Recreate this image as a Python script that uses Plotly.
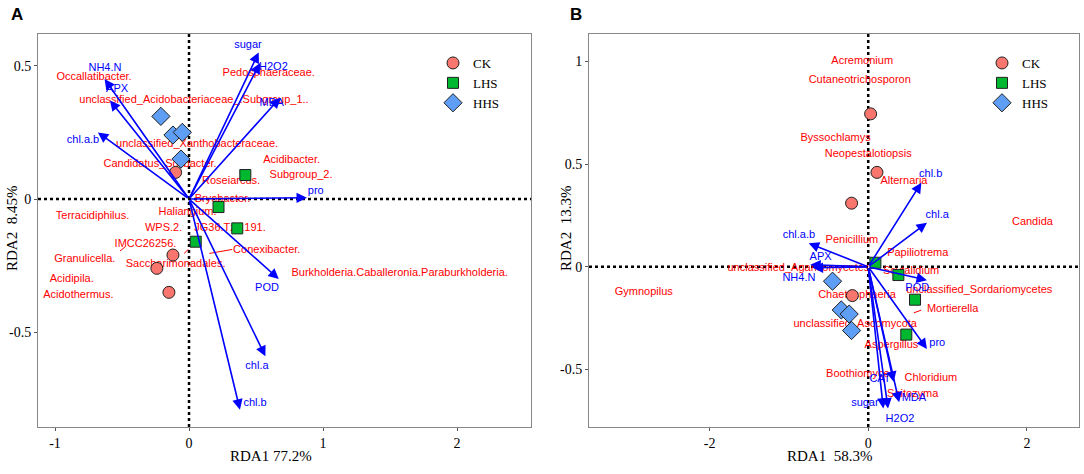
import plotly.graph_objects as go

# ---------------- Panel A data ----------------
groups = ["CK", "LHS", "HHS"]
A_ck_x = [-0.10, -0.12, -0.24, -0.15]
A_ck_y = [0.10, -0.21, -0.26, -0.35]
A_lhs_x = [0.42, 0.22, 0.36, 0.05]
A_lhs_y = [0.09, -0.03, -0.11, -0.16]
A_hhs_x = [-0.21, -0.12, -0.05, -0.06]
A_hhs_y = [0.31, 0.24, 0.25, 0.15]

A_env = ["sugar", "H2O2", "MDA", "pro", "NH4.N", "APX", "chl.a.b", "POD", "chl.a", "chl.b"]
A_env_x = [0.52, 0.53, 0.68, 0.88, -0.63, -0.59, -0.68, 0.67, 0.57, 0.38]
A_env_y = [0.55, 0.51, 0.38, 0.005, 0.45, 0.37, 0.25, -0.30, -0.59, -0.79]
A_env_lx = [0.44, 0.63, 0.617, 0.946, -0.627, -0.537, -0.791, 0.582, 0.507, 0.493]
A_env_ly = [0.577, 0.496, 0.359, 0.031, 0.491, 0.412, 0.221, -0.334, -0.626, -0.765]

A_sp = ["Occallatibacter.", "unclassified_Acidobacteriaceae_.Subgroup_1..", "Pedosphaeraceae.",
        "unclassified_Xanthobacteraceae.", "Candidatus_Solibacter.", "Acidibacter.", "Subgroup_2.",
        "Roseiarcus.", "Bryobacter.", "Terracidiphilus.", "Haliangium.", "WPS.2.", "JG36.TzT.191.",
        "IMCC26256.", "Granulicella.", "Saccharimonadales.", "Conexibacter.",
        "Burkholderia.Caballeronia.Paraburkholderia.", "Acidipila.", "Acidothermus."]
A_sp_x = [-0.709, 0.037, 0.595, 0.06, -0.216, 0.766, 0.836, 0.314, 0.25, -0.72, -0.011, -0.19, 0.306,
          -0.325, -0.778, -0.10, 0.58, 1.572, -0.875, -0.826]
A_sp_y = [0.455, 0.371, 0.471, 0.205, 0.13, 0.146, 0.09, 0.065, 0.0, -0.064, -0.05, -0.111, -0.111,
          -0.169, -0.225, -0.245, -0.191, -0.279, -0.30, -0.359]
A_leaders = [(-0.515, -0.195, -0.478, -0.18), (-0.037, -0.204, -0.005, -0.189), (0.152, -0.204, 0.323, -0.189)]
A_xticks = [-1, 0, 1, 2]
A_xticklabels = ["-1", "0", "1", "2"]
A_yticks = [-0.5, 0, 0.5]
A_yticklabels = ["-0.5", "0", "0.5"]

# ---------------- Panel B data ----------------
B_ck_x = [0.03, 0.11, -0.21, -0.20]
B_ck_y = [0.745, 0.46, 0.31, -0.14]
B_lhs_x = [0.09, 0.38, 0.59, 0.48]
B_lhs_y = [0.02, -0.04, -0.16, -0.33]
B_hhs_x = [-0.45, -0.34, -0.24, -0.21]
B_hhs_y = [-0.07, -0.21, -0.23, -0.31]

B_env = ["chl.b", "chl.a", "chl.a.b", "APX", "NH4.N", "POD", "pro", "CAT", "MDA", "sugar", "H2O2"]
B_env_x = [0.67, 0.74, -0.75, -0.73, -0.70, 0.74, 0.74, 0.32, 0.39, 0.19, 0.25]
B_env_y = [0.41, 0.215, 0.115, 0.01, -0.005, -0.065, -0.40, -0.56, -0.66, -0.69, -0.69]
B_env_lx = [0.787, 0.87, -0.874, -0.60, -0.874, 0.618, 0.87, 0.148, 0.576, -0.042, 0.40]
B_env_ly = [0.452, 0.252, 0.155, 0.049, -0.054, -0.105, -0.374, -0.549, -0.642, -0.666, -0.74]

B_sp = ["Acremonium", "Cutaneotrichosporon", "Byssochlamys", "Neopestalotiopsis", "Alternaria",
        "Candida", "Penicillium", "Papiliotrema", "unclassified_Agaricomycetes", "Scytalidium",
        "unclassified_Sordariomycetes", "Mortierella", "Chaetosphaeria", "unclassified_Ascomycota",
        "Aspergillus", "Boothiomyces", "Chloridium", "Saitozyma", "Gymnopilus"]
B_sp_x = [-0.076, -0.107, -0.411, 0.0, 0.45, 2.07, -0.206, 0.624, -0.88, 0.54, 1.40, 1.064, -0.142,
          -0.164, 0.293, -0.096, 0.79, 0.561, -2.83]
B_sp_y = [1.003, 0.911, 0.626, 0.548, 0.415, 0.215, 0.13, 0.065, -0.008, -0.02, -0.114, -0.208, -0.138,
          -0.28, -0.382, -0.523, -0.541, -0.621, -0.122]
B_leaders = [(0.575, -0.224, 0.668, -0.211)]
B_xticks = [-2, 0, 2]
B_xticklabels = ["-2", "0", "2"]
B_yticks = [-0.5, 0, 0.5, 1]
B_yticklabels = ["-0.5", "0", "0.5", "1"]

# ---------------- styling ----------------
colors = {"CK": "#F8766D", "LHS": "#00B830", "HHS": "#5F9EF5"}
symbols = {"CK": "circle", "LHS": "square", "HHS": "diamond"}
sizes = {"CK": 12, "LHS": 11, "HHS": 14}
RED = "#FF0000"
BLUE = "#0000FF"
SANS = "Liberation Sans, Arial, sans-serif"
SERIF = "Liberation Serif, Times New Roman, serif"
W, H = 1084, 474

fig = go.Figure()

panels = [
    dict(xa="x", ya="y", legend="legend",
         pts={"CK": (A_ck_x, A_ck_y), "LHS": (A_lhs_x, A_lhs_y), "HHS": (A_hhs_x, A_hhs_y)},
         env=(A_env, A_env_x, A_env_y, A_env_lx, A_env_ly),
         sp=(A_sp, A_sp_x, A_sp_y), leaders=A_leaders),
    dict(xa="x2", ya="y2", legend="legend2",
         pts={"CK": (B_ck_x, B_ck_y), "LHS": (B_lhs_x, B_lhs_y), "HHS": (B_hhs_x, B_hhs_y)},
         env=(B_env, B_env_x, B_env_y, B_env_lx, B_env_ly),
         sp=(B_sp, B_sp_x, B_sp_y), leaders=B_leaders),
]

shapes = []
annotations = []
for p in panels:
    xa, ya = p["xa"], p["ya"]
    shapes.append(dict(type="line", xref=xa, yref=f"{ya} domain", x0=0, x1=0, y0=0, y1=1,
                       line=dict(color="black", width=2.5, dash="dot"), layer="below"))
    shapes.append(dict(type="line", xref=f"{xa} domain", yref=ya, x0=0, x1=1, y0=0, y1=0,
                       line=dict(color="black", width=2.5, dash="dot"), layer="below"))
    for (x0, y0, x1, y1) in p["leaders"]:
        shapes.append(dict(type="line", xref=xa, yref=ya, x0=x0, y0=y0, x1=x1, y1=y1,
                           line=dict(color=RED, width=1)))
    names, sx, sy = p["sp"]
    fig.add_trace(go.Scatter(x=sx, y=sy, text=names, mode="text", xaxis=xa, yaxis=ya,
                             textfont=dict(color=RED, size=11, family=SANS),
                             showlegend=False, hoverinfo="skip"))
    en, ex, ey, elx, ely = p["env"]
    for n, x, y in zip(en, ex, ey):
        annotations.append(dict(x=x, y=y, ax=0, ay=0, xref=xa, yref=ya, axref=xa, ayref=ya,
                                text="", showarrow=True, arrowhead=2, arrowsize=1.3,
                                arrowwidth=1.6, arrowcolor=BLUE, standoff=0))
    fig.add_trace(go.Scatter(x=elx, y=ely, text=en, mode="text", xaxis=xa, yaxis=ya,
                             textfont=dict(color=BLUE, size=11, family=SANS),
                             showlegend=False, hoverinfo="skip"))
    for g in groups:
        gx, gy = p["pts"][g]
        fig.add_trace(go.Scatter(x=gx, y=gy, mode="markers", name=g, xaxis=xa, yaxis=ya,
                                 legend=p["legend"],
                                 marker=dict(symbol=symbols[g], color=colors[g], size=sizes[g],
                                             line=dict(color="#202020", width=1))))

# panel tags
for txt, px in (("A", 17), ("B", 576)):
    annotations.append(dict(x=px / W, y=1 - 15 / H, xref="paper", yref="paper", text=f"<b>{txt}</b>",
                            xanchor="center", yanchor="middle",
                            showarrow=False, font=dict(family=SANS, size=17, color="black")))

# axis titles
title_font = dict(family=SERIF, size=15, color="black")
for txt, px in (("RDA1 77.2%", 271), ("RDA1  58.3%", 829)):
    annotations.append(dict(x=px / W, y=1 - 456 / H, xref="paper", yref="paper", text=txt,
                            xanchor="center", yanchor="middle", showarrow=False, font=title_font))
for txt, px in (("RDA2  8.45%", 12), ("RDA2  13.3%", 566)):
    annotations.append(dict(x=px / W, y=1 - 229 / H, xref="paper", yref="paper", text=txt,
                            xanchor="center", yanchor="middle",
                            textangle=-90, showarrow=False, font=title_font))

axis_common = dict(showgrid=False, zeroline=False, showline=True, mirror=True, automargin=False,
                   linecolor="#888888", linewidth=1, ticks="outside", ticklen=3,
                   tickcolor="#555555", tickfont=dict(family=SERIF, size=14, color="black"))

ydom = [1 - 427 / H, 1 - 34 / H]
legend_common = dict(xanchor="left", yanchor="top", bgcolor="rgba(0,0,0,0)",
                     font=dict(family=SERIF, size=13, color="black"),
                     itemwidth=30, tracegroupgap=0)
fig.update_layout(
    width=W, height=H, margin=dict(l=0, r=0, t=0, b=0),
    paper_bgcolor="white", plot_bgcolor="white",
    xaxis=dict(domain=[38 / W, 531 / W], range=[-1.127, 2.552], tickvals=A_xticks,
               ticktext=A_xticklabels, anchor="y", **axis_common),
    yaxis=dict(domain=ydom, range=[-0.855, 0.619], tickvals=A_yticks,
               ticktext=A_yticklabels, anchor="x", **axis_common),
    xaxis2=dict(domain=[589 / W, 1079 / W], range=[-3.52, 2.657], tickvals=B_xticks,
                ticktext=B_xticklabels, anchor="y2", **axis_common),
    yaxis2=dict(domain=ydom, range=[-0.78, 1.134], tickvals=B_yticks,
                ticktext=B_yticklabels, anchor="x2", **axis_common),
    legend=dict(x=433 / W, y=1 - 48 / H, **legend_common),
    legend2=dict(x=982 / W, y=1 - 48 / H, **legend_common),
    shapes=shapes, annotations=annotations,
)

fig.write_html("out.html", config={"displayModeBar": False},
               post_script="document.body.style.margin='0';document.body.style.overflow='hidden';")
